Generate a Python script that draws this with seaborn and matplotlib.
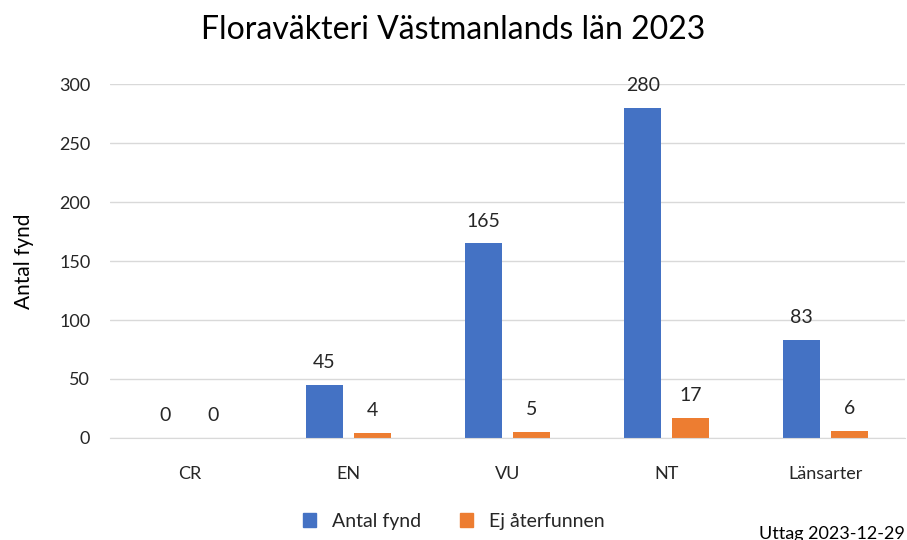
import matplotlib.pyplot as plt
import seaborn as sns
import pandas as pd
from matplotlib.patches import Patch

# data
kategorier = ['CR', 'EN', 'VU', 'NT', 'Länsarter']
antal_fynd = [0, 45, 165, 280, 83]
ej_aterfunnen = [0, 4, 5, 17, 6]
serier = ['Antal fynd', 'Ej återfunnen']
farger = ['#4472C4', '#ED7D31']

df = pd.DataFrame({
    'kategori': kategorier * 2,
    'varde': antal_fynd + ej_aterfunnen,
    'serie': [serier[0]] * len(kategorier) + [serier[1]] * len(kategorier),
})

sns.set_style('white')
plt.rcParams['font.family'] = ['Lato', 'DejaVu Sans']

fig = plt.figure(figsize=(9.07, 5.40), dpi=100)
ax = fig.add_axes([0.121, 0.189, 0.877, 0.655])

sns.barplot(data=df, x='kategori', y='varde', hue='serie', order=kategorier,
            hue_order=serier, palette=farger, saturation=1, linewidth=0,
            width=0.6, gap=0.22, ax=ax, legend=False)

for cont in ax.containers:
    ax.bar_label(cont, padding=10, fontsize=14, color='#262626')

ax.set_ylim(0, 300)
ax.set_yticks(range(0, 301, 50))
ax.yaxis.grid(True, color='#D9D9D9', linewidth=1)
ax.set_axisbelow(True)
for s in ['top', 'right', 'left']:
    ax.spines[s].set_visible(False)
ax.spines['bottom'].set_color('#D9D9D9')
ax.tick_params(axis='both', length=0, labelsize=13, labelcolor='#262626')
ax.tick_params(axis='x', pad=20)
ax.tick_params(axis='y', pad=14)
ax.set_xlabel('')
ax.set_ylabel('Antal fynd', fontsize=15, color='black', labelpad=18)

fig.text(0.5, 0.945, 'Floraväkteri Västmanlands län 2023', ha='center', va='center',
         fontsize=23, color='black')

handles = [Patch(color=farger[0]), Patch(color=farger[1])]
fig.legend(handles, serier, loc='center', bbox_to_anchor=(0.5, 0.035), ncol=2,
           frameon=False, fontsize=14, handlelength=0.7, handleheight=0.7,
           columnspacing=2.0, labelcolor='#262626')

fig.text(0.998, 0.012, 'Uttag 2023-12-29', ha='right', va='center', fontsize=13,
         color='black')

plt.savefig('out.png', dpi=100)
